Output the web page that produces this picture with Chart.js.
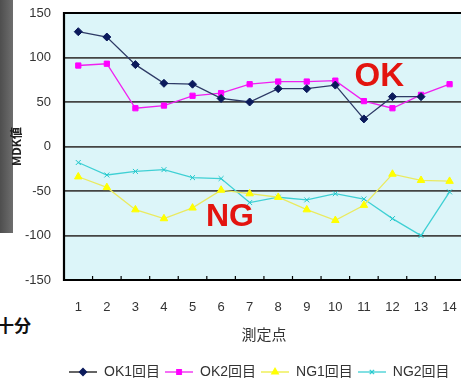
<!DOCTYPE html>
<html>
<head>
<meta charset="utf-8">
<script src="https://cdn.jsdelivr.net/npm/chart.js@4/dist/chart.umd.min.js"></script>
<style>
  html, body { margin: 0; padding: 0; background: #ffffff; overflow: hidden; }
  #wrap { position: relative; width: 477px; height: 389px; }
  #strip { position: absolute; left: 0; top: 0; width: 13px; height: 233px;
           background: linear-gradient(90deg, #4e4e4e, #6e6e6e); }
  #side { position: absolute; left: -3px; top: 314px; font: bold 17px 'Noto Sans CJK JP', sans-serif;
          color: #111; line-height: 22px; }
  canvas { position: absolute; left: 0; top: 0; }
</style>
</head>
<body>
<div id="wrap">
  <div id="strip"></div>
  <div id="side">十分</div>
  <canvas id="c" width="477" height="389"></canvas>
</div>
<script>
// measurement points 1..14
const points = ['1','2','3','4','5','6','7','8','9','10','11','12','13','14'];
const yTicks = [-150, -100, -50, 0, 50, 100, 150];

// MDK values per run
const ok1 = [129, 123, 92, 71, 70, 54, 50, 65, 65, 69, 31, 56, 56, null];
const ok2 = [91, 93, 43, 46, 57, 60, 70, 73, 73, 74, 51, 43, 58, 70];
const ng1 = [-34, -46, -71, -81, -69, -49, -53, -57, -71, -83, -66, -31, -38, -39];
const ng2 = [-18, -32, -28, -26, -35, -36, -63, -57, -60, -53, -59, -81, -100, -51];

const seriesNames = ['OK1回目', 'OK2回目', 'NG1回目', 'NG2回目'];

const FONT = "'Liberation Sans', 'Noto Sans CJK JP', sans-serif";

const styles = [
  { line: '#2e3a66', mark: '#0b1a5c', legendLine: '#111', style: 'rectRot', r: 3.5 },
  { line: '#f020f0', mark: '#ff00ff', legendLine: '#f020f0', style: 'rect', r: 3.2 },
  { line: '#eaea60', mark: '#ffff00', legendLine: '#eded40', style: 'triangle', r: 3.8 },
  { line: '#3fd0d4', mark: '#20c8cc', legendLine: '#3fd0d4', style: 'crossRot', r: 3 }
];

// small line-with-marker sample used as the legend symbol
function markerSample(s) {
  const cv = document.createElement('canvas');
  cv.width = 28; cv.height = 12;
  const g = cv.getContext('2d');
  g.strokeStyle = s.legendLine; g.lineWidth = 1.3;
  g.beginPath(); g.moveTo(0, 6); g.lineTo(28, 6); g.stroke();
  g.fillStyle = s.mark; g.strokeStyle = s.mark;
  Chart.helpers.drawPoint(g, { pointStyle: s.style, radius: s.r, rotation: 0, borderWidth: 1 }, 14, 6);
  return cv;
}

function makeDataset(i, data) {
  const s = styles[i];
  return {
    label: seriesNames[i],
    data: data,
    borderColor: s.line,
    backgroundColor: s.mark,
    pointBackgroundColor: s.mark,
    pointBorderColor: s.mark,
    pointStyle: s.style,
    pointRadius: s.r + 0.5,
    pointBorderWidth: 1,
    borderWidth: 1.3,
    tension: 0,
    spanGaps: false
  };
}

// chart area background, frame, inner tick marks and OK/NG labels
const framePlugin = {
  id: 'frame',
  beforeDraw(chart) {
    const { ctx, chartArea: a } = chart;
    ctx.save();
    ctx.fillStyle = '#dcf5f9';
    ctx.fillRect(a.left, a.top, a.right - a.left, a.bottom - a.top);
    ctx.restore();
  },
  afterDatasetsDraw(chart) {
    const { ctx, chartArea: a, scales } = chart;
    const xs = scales.x, ys = scales.y;
    ctx.save();
    ctx.strokeStyle = '#000';
    ctx.lineWidth = 2.2;
    ctx.beginPath();
    ctx.moveTo(a.right + 5, a.top);
    ctx.lineTo(a.left, a.top);
    ctx.lineTo(a.left, a.bottom);
    ctx.lineTo(a.right + 5, a.bottom);
    ctx.stroke();
    // small ticks between categories, pointing inward
    ctx.lineWidth = 1.2;
    const step = xs.getPixelForValue(1) - xs.getPixelForValue(0);
    for (let i = 0; i < points.length; i++) {
      const x = xs.getPixelForValue(i) + step / 2;
      ctx.beginPath(); ctx.moveTo(x, a.bottom); ctx.lineTo(x, a.bottom - 4); ctx.stroke();
    }
    ctx.fillStyle = '#e3140f';
    ctx.textAlign = 'center';
    ctx.textBaseline = 'middle';
    ctx.font = 'bold 33px ' + FONT;
    ctx.fillText('OK', xs.getPixelForValue(10.54), ys.getPixelForValue(78));
    ctx.font = 'bold 32px ' + FONT;
    ctx.fillText('NG', xs.getPixelForValue(5.31), ys.getPixelForValue(-79));
    ctx.restore();
  }
};

new Chart(document.getElementById('c'), {
  type: 'line',
  data: {
    labels: points,
    datasets: [makeDataset(0, ok1), makeDataset(1, ok2), makeDataset(2, ng1), makeDataset(3, ng2)]
  },
  options: {
    responsive: false,
    animation: false,
    devicePixelRatio: 1,
    layout: { padding: { top: 13, left: 0, right: 0, bottom: 0 } },
    plugins: {
      tooltip: { enabled: false },
      legend: {
        position: 'bottom',
        align: 'start',
        fullSize: false,
        labels: {
          usePointStyle: true,
          pointStyleWidth: 28,
          color: '#333',
          font: { family: FONT, size: 14 },
          padding: 5,
          generateLabels(chart) {
            return chart.data.datasets.map((d, i) => ({
              text: d.label,
              pointStyle: markerSample(styles[i]),
              fontColor: '#333',
              lineWidth: 0,
              strokeStyle: 'transparent',
              fillStyle: 'transparent',
              hidden: false,
              datasetIndex: i
            }));
          }
        }
      }
    },
    scales: {
      x: {
        offset: true,
        afterFit(s) { s.height = 80; },
        grid: { display: false, drawTicks: false },
        border: { display: false },
        ticks: { color: '#333', font: { family: FONT, size: 13 }, padding: 20, maxRotation: 0 },
        title: { display: true, text: '測定点', color: '#333', font: { family: "'Noto Sans CJK JP', sans-serif", size: 15 }, padding: { top: 4, bottom: 17 } }
      },
      y: {
        min: -150, max: 150,
        afterFit(s) { s.width = 64; },
        afterBuildTicks(s) { s.ticks = yTicks.map(v => ({ value: v })); },
        grid: { color: '#444', lineWidth: 1.8, drawTicks: true, tickLength: 10, tickColor: 'rgba(0,0,0,0)' },
        border: { display: false },
        ticks: { color: '#333', font: { family: FONT, size: 13 }, padding: 3 },
        title: { display: true, text: 'MDK値', color: '#222', font: { family: "'Noto Sans CJK JP', sans-serif", size: 12, weight: 'bold' }, padding: { top: 9, bottom: 0 } }
      }
    }
  },
  plugins: [framePlugin]
});
</script>
</body>
</html>
